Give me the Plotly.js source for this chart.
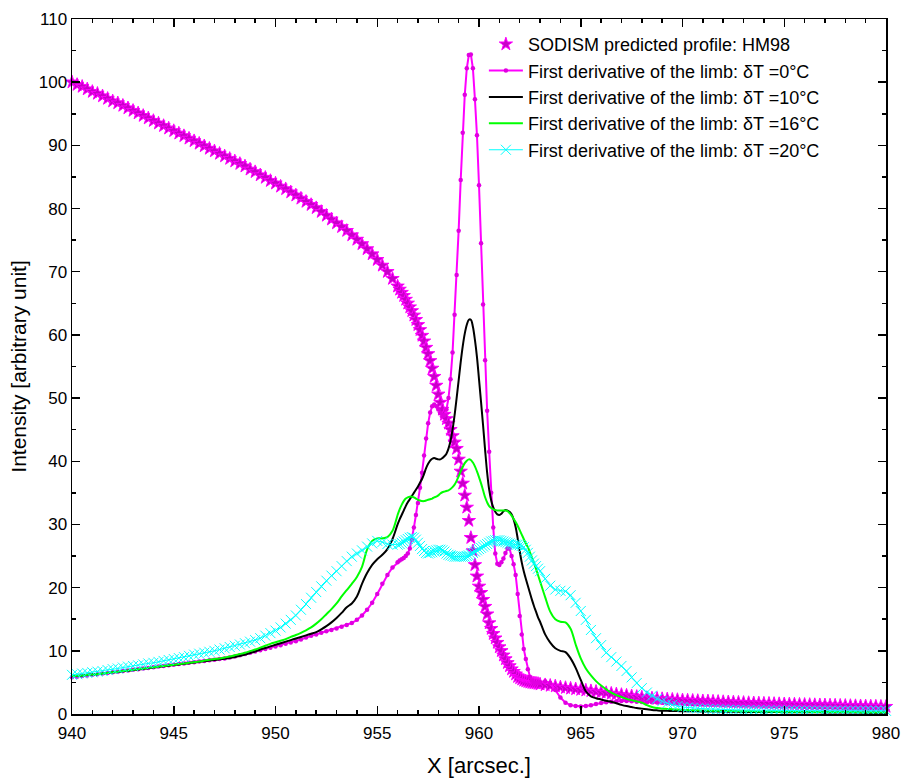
<!DOCTYPE html>
<html>
<head>
<meta charset="utf-8">
<script src="https://cdn.plot.ly/plotly-3.0.1.min.js"></script>
<style>html,body{margin:0;padding:0;background:#fff;}#chart{width:903px;height:778px;}</style>
</head>
<body>
<div id="chart"></div>
<script>
// X positions (arcsec)
const xArcsec = [
  940,940.25,940.5,940.75,941,941.25,941.5,941.75,
  942,942.25,942.5,942.75,943,943.25,943.5,943.75,
  944,944.25,944.5,944.75,945,945.25,945.5,945.75,
  946,946.25,946.5,946.75,947,947.25,947.5,947.75,
  948,948.25,948.5,948.75,949,949.25,949.5,949.75,
  950,950.25,950.5,950.75,951,951.25,951.5,951.75,
  952,952.25,952.5,952.75,953,953.25,953.5,953.75,
  954,954.25,954.5,954.75,955,955.25,955.5,955.75,
  956,956.1,956.2,956.3,956.4,956.5,956.6,956.7,956.8,956.9,
  957,957.1,957.2,957.3,957.4,957.5,957.6,957.7,957.8,957.9,
  958,958.1,958.2,958.3,958.4,958.5,958.6,958.7,958.8,958.9,
  959,959.1,959.2,959.3,959.4,959.5,959.6,959.7,959.8,959.9,
  960,960.1,960.2,960.3,960.4,960.5,960.6,960.7,960.8,960.9,
  961,961.1,961.2,961.3,961.4,961.5,961.6,961.7,961.8,961.9,
  962,962.1,962.2,962.3,962.4,962.5,962.6,962.7,962.8,962.9,
  963,963.25,963.5,963.75,964,964.25,964.5,964.75,965,965.25,
  965.5,965.75,966,966.25,966.5,966.75,967,967.25,967.5,967.75,
  968,968.25,968.5,968.75,969,969.25,969.5,969.75,970,970.25,
  970.5,970.75,971,971.25,971.5,971.75,972,972.25,972.5,972.75,
  973,973.25,973.5,973.75,974,974.25,974.5,974.75,975,975.25,
  975.5,975.75,976,976.25,976.5,976.75,977,977.25,977.5,977.75,
  978,978.25,978.5,978.75,979,979.25,979.5,979.75,980
];

// SODISM predicted profile HM98
const hm98 = [
  100.0,99.6,99.3,98.9,98.5,98.2,97.8,97.4,
  97.0,96.7,96.3,95.9,95.5,95.1,94.7,94.3,
  93.9,93.5,93.1,92.7,92.3,91.9,91.5,91.1,
  90.7,90.3,89.9,89.5,89.1,88.7,88.3,87.9,
  87.5,87.1,86.7,86.2,85.8,85.3,84.9,84.4,
  84.0,83.5,83.1,82.6,82.1,81.6,81.1,80.6,
  80.1,79.5,78.9,78.3,77.7,77.1,76.5,75.8,
  75.1,74.4,73.6,72.8,71.9,71.0,70.0,68.9,
  67.7,67.2,66.7,66.2,65.6,65.0,64.4,63.8,63.1,62.4,
  61.6,60.8,59.9,59.0,58.0,57.0,55.9,54.7,53.4,52.0,
  50.6,49.3,48.2,47.4,46.7,46.0,45.0,44.0,43.0,42.0,
  40.3,38.4,36.5,34.6,32.7,30.6,27.9,25.8,23.6,21.8,
  20.2,19.2,18.1,17.0,15.8,14.4,13.5,12.7,12.0,11.3,
  10.6,10.0,9.3,8.7,8.1,7.6,7.1,6.7,6.3,5.9,
  5.7,5.5,5.3,5.2,5.1,5.0,4.95,4.9,4.85,4.8,
  4.7,4.6,4.5,4.4,4.25,4.15,4.05,3.95,3.85,3.75,
  3.65,3.55,3.45,3.35,3.25,3.15,3.05,2.95,2.85,2.75,
  2.65,2.55,2.5,2.45,2.4,2.35,2.3,2.25,2.2,2.17,
  2.13,2.1,2.06,2.03,2.0,1.96,1.93,1.9,1.87,1.83,
  1.8,1.77,1.74,1.71,1.68,1.66,1.63,1.61,1.58,1.56,
  1.54,1.51,1.49,1.47,1.45,1.43,1.41,1.39,1.37,1.35,
  1.33,1.31,1.29,1.27,1.25,1.23,1.21,1.19,1.17
];

// First derivative, dT = 0 C
const dT0 = [
  5.8,5.9,6.0,6.1,6.2,6.3,6.4,6.5,
  6.6,6.7,6.8,6.9,7.0,7.1,7.2,7.3,
  7.4,7.5,7.6,7.7,7.8,7.9,8.0,8.1,
  8.2,8.3,8.4,8.5,8.6,8.7,8.8,8.95,
  9.1,9.3,9.5,9.7,9.9,10.1,10.3,10.5,
  10.7,10.9,11.1,11.3,11.5,11.8,12.1,12.4,
  12.6,12.85,13.1,13.3,13.55,13.8,14.1,14.4,
  14.9,15.6,16.5,17.6,19.0,20.6,22.0,23.2,
  24.0,24.3,24.5,24.7,25.0,25.4,26.2,27.6,29.5,31.5,
  33.4,35.8,38.2,40.9,43.6,46.0,47.7,48.7,49.0,48.7,
  48.2,47.6,47.2,47.3,48.2,50.0,53.0,57.2,63.2,69.5,
  76.5,84.5,92.0,98.0,102.2,104.3,104.4,102.2,97.3,91.6,
  83.7,74.5,64.8,56.0,48.0,41.5,35.0,29.5,25.4,23.8,
  23.6,24.0,24.6,25.5,26.2,26.2,25.0,23.7,22.0,19.0,
  15.5,12.6,10.3,8.7,7.1,5.9,5.3,5.0,4.9,4.9,
  5.0,5.2,4.9,3.8,2.6,1.8,1.4,1.25,1.2,1.25,
  1.4,1.6,1.75,1.85,1.95,2.0,2.05,2.05,2.0,1.95,
  1.9,1.87,1.84,1.81,1.78,1.75,1.72,1.69,1.66,1.63,
  1.6,1.58,1.56,1.54,1.52,1.5,1.48,1.46,1.44,1.42,
  1.4,1.38,1.36,1.34,1.32,1.3,1.28,1.26,1.24,1.22,
  1.2,1.18,1.16,1.14,1.12,1.1,1.08,1.06,1.04,1.02,
  1.0,0.99,0.98,0.97,0.96,0.95,0.94,0.93,0.92
];

// First derivative, dT = 10 C
const dT10 = [
  6.0,6.05,6.1,6.2,6.25,6.3,6.4,6.5,
  6.6,6.65,6.75,6.85,6.95,7.05,7.15,7.25,
  7.35,7.45,7.55,7.65,7.75,7.85,7.95,8.05,
  8.15,8.25,8.35,8.45,8.55,8.65,8.75,8.85,
  9.0,9.2,9.4,9.65,9.9,10.2,10.45,10.7,
  10.95,11.2,11.45,11.7,11.95,12.2,12.45,12.7,
  12.95,13.4,13.9,14.5,15.2,16.0,16.9,17.5,
  18.6,20.6,22.3,23.6,24.5,25.2,26.1,27.7,
  30.0,30.8,31.5,32.2,32.9,33.5,34.0,34.5,35.0,35.5,
  36.0,36.6,37.2,38.0,38.9,39.6,40.1,40.4,40.5,40.4,
  40.3,40.3,40.5,40.8,41.2,42.0,43.2,45.0,47.3,50.0,
  52.8,55.7,58.2,60.2,61.6,62.4,62.4,61.3,59.2,56.5,
  53.0,49.4,45.7,41.8,38.2,35.5,33.8,32.7,32.0,31.6,
  31.5,31.7,32.1,32.3,32.2,32.0,31.6,30.8,29.6,27.8,
  25.8,24.0,22.6,21.4,20.3,19.2,18.1,17.1,16.2,15.3,
  14.6,12.6,11.3,10.4,10.0,9.8,8.8,7.3,5.4,3.6,
  2.8,2.5,2.3,2.1,1.95,1.7,1.45,1.25,1.1,0.95,
  0.85,0.75,0.65,0.58,0.52,0.5,0.48,0.46,0.45,0.44,
  0.43,0.42,0.41,0.4,0.39,0.38,0.37,0.36,0.35,0.34,
  0.33,0.33,0.32,0.32,0.31,0.31,0.3,0.3,0.29,0.29,
  0.28,0.28,0.27,0.27,0.26,0.26,0.25,0.25,0.24,0.24,
  0.23,0.23,0.22,0.22,0.21,0.21,0.2,0.2,0.2
];

// First derivative, dT = 16 C
const dT16 = [
  6.0,6.05,6.1,6.2,6.25,6.3,6.4,6.5,
  6.6,6.7,6.8,6.9,7.0,7.1,7.2,7.3,
  7.4,7.5,7.6,7.7,7.8,7.9,8.0,8.1,
  8.2,8.3,8.45,8.6,8.7,8.8,8.95,9.1,
  9.3,9.5,9.7,9.95,10.2,10.5,10.8,11.1,
  11.35,11.6,11.85,12.2,12.5,12.85,13.25,13.7,
  14.3,15.0,15.8,16.6,17.5,18.6,19.6,20.6,
  21.7,23.3,26.0,27.4,27.8,27.8,28.0,29.0,
  31.5,32.4,33.1,33.7,34.1,34.3,34.4,34.4,34.3,34.1,
  33.9,33.8,33.7,33.7,33.8,33.9,34.0,34.1,34.3,34.4,
  34.6,34.9,35.1,35.2,35.3,35.4,35.6,35.9,36.3,36.9,
  37.6,38.4,39.1,39.7,40.1,40.3,40.2,39.8,39.2,38.4,
  37.5,36.5,35.4,34.3,33.5,32.9,32.6,32.4,32.3,32.2,
  32.2,32.2,32.2,32.2,32.1,31.8,31.4,30.9,30.4,29.8,
  29.1,28.4,27.7,27.0,26.4,25.6,24.8,23.9,23.0,22.0,
  21.0,18.5,16.2,15.0,14.6,14.5,13.5,11.0,8.8,7.2,
  6.1,5.2,4.5,3.9,3.4,3.0,2.7,2.4,2.2,2.0,
  1.8,1.4,1.1,0.95,0.85,0.8,0.75,0.7,0.66,0.63,
  0.6,0.58,0.56,0.54,0.52,0.5,0.48,0.47,0.46,0.45,
  0.44,0.43,0.42,0.41,0.4,0.39,0.38,0.37,0.36,0.36,
  0.35,0.35,0.34,0.34,0.33,0.33,0.32,0.32,0.31,0.31,
  0.3,0.3,0.3,0.29,0.29,0.29,0.28,0.28,0.28
];

// First derivative, dT = 20 C
const dT20 = [
  6.2,6.3,6.4,6.5,6.6,6.7,6.8,6.95,
  7.1,7.2,7.35,7.5,7.6,7.7,7.85,8.0,
  8.1,8.25,8.4,8.55,8.7,8.85,9.0,9.2,
  9.4,9.55,9.7,9.85,10.0,10.2,10.4,10.6,
  10.8,11.0,11.2,11.45,11.7,12.0,12.4,12.8,
  13.2,13.7,14.3,14.9,15.6,16.5,17.4,18.4,
  19.3,20.2,21.1,21.9,22.6,23.4,24.2,24.9,
  25.4,25.9,26.5,27.0,27.4,27.2,26.9,26.8,
  26.8,26.9,27.1,27.3,27.5,27.7,27.9,28.0,27.9,27.6,
  27.1,26.6,26.1,25.8,25.5,25.4,25.5,25.6,25.8,25.9,
  26.0,26.0,25.9,25.7,25.4,25.2,25.1,25.0,24.9,24.9,
  24.9,24.9,24.9,24.9,25.0,25.1,25.3,25.5,25.7,25.9,
  26.1,26.3,26.5,26.7,26.9,27.1,27.3,27.4,27.5,27.5,
  27.5,27.4,27.3,27.2,27.1,27.0,26.9,26.8,26.8,26.8,
  26.7,26.6,26.4,26.0,25.5,24.9,24.3,23.8,23.4,23.0,
  22.6,21.4,20.3,19.7,19.5,19.4,18.8,17.6,16.3,14.9,
  13.3,12.0,10.9,9.7,9.0,8.3,7.6,6.8,5.8,4.9,
  4.1,3.4,2.9,2.4,2.0,1.7,1.45,1.25,1.1,1.0,
  0.95,0.9,0.85,0.8,0.77,0.74,0.71,0.68,0.66,0.64,
  0.62,0.61,0.6,0.59,0.58,0.57,0.56,0.55,0.55,0.54,
  0.54,0.53,0.53,0.52,0.52,0.52,0.51,0.51,0.51,0.5,
  0.5,0.5,0.5,0.5,0.5,0.5,0.5,0.5,0.5
];

const seriesNames = [
  'SODISM predicted profile: HM98',
  'First derivative of the limb: \u03b4T =0\u00b0C',
  'First derivative of the limb: \u03b4T =10\u00b0C',
  'First derivative of the limb: \u03b4T =16\u00b0C',
  'First derivative of the limb: \u03b4T =20\u00b0C'
];

const FONT = 'Liberation Sans, Arial, Helvetica, sans-serif';

const traces = [
  {x: xArcsec, y: hm98, name: seriesNames[0], type: 'scatter', mode: 'markers', cliponaxis: false,
   marker: {symbol: 'star', size: 10, color: '#c800c8', line: {color: '#ff00ff', width: 1}}},
  {x: xArcsec, y: dT0, name: seriesNames[1], type: 'scatter', mode: 'lines+markers', cliponaxis: false,
   line: {color: '#ff00ff', width: 2}, marker: {symbol: 'circle', size: 4.5, color: '#e000e0'}},
  {x: xArcsec, y: dT10, name: seriesNames[2], type: 'scatter', mode: 'lines', cliponaxis: false,
   line: {color: '#000000', width: 2, shape: 'spline'}},
  {x: xArcsec, y: dT16, name: seriesNames[3], type: 'scatter', mode: 'lines', cliponaxis: false,
   line: {color: '#00ff00', width: 2, shape: 'spline'}},
  {x: xArcsec, y: dT20, name: seriesNames[4], type: 'scatter', mode: 'lines+markers', cliponaxis: false,
   line: {color: '#00ffff', width: 1}, marker: {symbol: 'x-thin-open', size: 10, color: '#00ffff', line: {color: '#00ffff', width: 1}}}
];

const axisCommon = {
  showline: true, linecolor: '#000', linewidth: 1.5, mirror: 'ticks',
  ticks: 'inside', ticklen: 8, tickwidth: 1.5, tickcolor: '#000',
  showgrid: false, zeroline: false,
  tickfont: {family: FONT, size: 17, color: '#000'}
};

const layout = {
  width: 903, height: 778,
  margin: {l: 72, r: 17, t: 19, b: 64},
  paper_bgcolor: '#fff', plot_bgcolor: '#fff',
  font: {family: FONT, color: '#000'},
  showlegend: true,
  legend: {x: 0.506, y: 0.99, xanchor: 'left', yanchor: 'top', bgcolor: 'rgba(0,0,0,0)',
           itemwidth: 34,
           font: {family: FONT, size: 18, color: '#000'}, tracegroupgap: 0},
  xaxis: Object.assign({}, axisCommon, {
    range: [940, 980], dtick: 5, tick0: 940, ticklabelstandoff: 3,
    minor: {dtick: 1, ticks: 'inside', ticklen: 4, tickwidth: 1.5, tickcolor: '#000'},
    title: {text: 'X [arcsec.]', font: {family: FONT, size: 22, color: '#000'}, standoff: 24}
  }),
  yaxis: Object.assign({}, axisCommon, {
    range: [0, 110], dtick: 10, tick0: 0,
    minor: {dtick: 5, ticks: 'inside', ticklen: 4, tickwidth: 1.5, tickcolor: '#000'},
    title: {text: 'Intensity [arbitrary unit]', font: {family: FONT, size: 21, color: '#000'}, standoff: 6}
  })
};

Plotly.newPlot('chart', traces, layout, {displayModeBar: false, staticPlot: true});
</script>
</body>
</html>
